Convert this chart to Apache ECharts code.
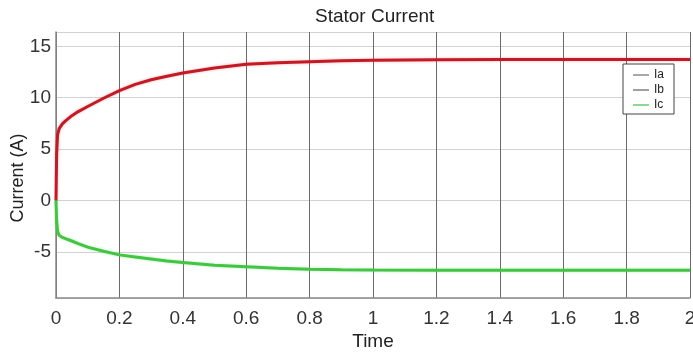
<!DOCTYPE html>
<html>
<head>
<meta charset="utf-8">
<script src="https://cdn.jsdelivr.net/npm/echarts@6/dist/echarts.min.js"></script>
<style>
html,body{margin:0;padding:0;background:#fff;}
#chart{width:693px;height:354px;}
</style>
</head>
<body>
<div id="chart"></div>
<script>
// ---- data ----
const titleText = 'Stator Current';
const xName = 'Time';
const yName = 'Current (A)';
const seriesNames = ['Ia', 'Ib', 'Ic'];
const time = [0, 0.002, 0.005, 0.01, 0.02, 0.03, 0.05, 0.07, 0.1, 0.15, 0.2, 0.25, 0.3, 0.35, 0.4, 0.5, 0.6, 0.7, 0.8, 0.9, 1.0, 1.2, 1.4, 1.6, 1.8, 2.0];
const ia = [0, 4.5, 6.4, 7.0, 7.45, 7.75, 8.25, 8.65, 9.15, 9.95, 10.7, 11.3, 11.75, 12.1, 12.4, 12.9, 13.25, 13.4, 13.5, 13.6, 13.65, 13.7, 13.72, 13.72, 13.72, 13.72];
const ib = [0, -2.0, -3.0, -3.4, -3.6, -3.72, -3.95, -4.2, -4.55, -4.95, -5.3, -5.5, -5.7, -5.9, -6.05, -6.3, -6.45, -6.6, -6.7, -6.75, -6.78, -6.8, -6.8, -6.8, -6.8, -6.8];
const ic = [0, -2.0, -3.0, -3.4, -3.6, -3.72, -3.95, -4.2, -4.55, -4.95, -5.3, -5.5, -5.7, -5.9, -6.05, -6.3, -6.45, -6.6, -6.7, -6.75, -6.78, -6.8, -6.8, -6.8, -6.8, -6.8];
const xMin = 0, xMax = 2, xStep = 0.2;
const yMin = -9.5, yMax = 16.4;

const pairs = (xs, ys) => xs.map((x, i) => [x, ys[i]]);
const font = '"Liberation Sans", Arial, sans-serif';

const chart = echarts.init(document.getElementById('chart'), null, {renderer: 'canvas'});
chart.setOption({
  animation: false,
  backgroundColor: '#fff',
  title: {
    text: titleText,
    left: 310, top: 2,
    textStyle: {fontFamily: font, fontSize: 19, fontWeight: 'normal', color: '#222'}
  },
  grid: {left: 56, right: 3, top: 32, bottom: 56, containLabel: false, outerBoundsMode: 'none'},
  legend: {
    orient: 'vertical',
    left: 623, top: 64,
    itemWidth: 16, itemHeight: 2, itemGap: 3,
    padding: [5, 10, 3, 10],
    borderColor: '#444', borderWidth: 1,
    backgroundColor: '#fff',
    icon: 'rect',
    textStyle: {fontFamily: font, fontSize: 12, color: '#222'},
    data: [
      {name: seriesNames[0], itemStyle: {color: '#a8a8a8'}},
      {name: seriesNames[1], itemStyle: {color: '#a0a0a0'}},
      {name: seriesNames[2], itemStyle: {color: '#8fd88f'}}
    ]
  },
  xAxis: {
    type: 'value', min: xMin, max: xMax, interval: xStep,
    name: xName, nameLocation: 'middle', nameGap: 34, nameMoveOverlap: false,
    nameTextStyle: {fontFamily: font, fontSize: 19, color: '#222'},
    axisLine: {show: true, onZero: false, lineStyle: {color: '#8a8a8a', width: 1.5}},
    axisTick: {show: false},
    axisLabel: {fontFamily: font, fontSize: 19, color: '#333', margin: 11},
    splitLine: {show: true, lineStyle: {color: '#6a6a6a', width: 1}}
  },
  yAxis: {
    type: 'value', min: yMin, max: yMax, splitNumber: 5,
    name: yName, nameLocation: 'middle', nameGap: 29, nameMoveOverlap: false,
    nameTextStyle: {fontFamily: font, fontSize: 18, color: '#222', padding: [0, 26, 0, 0]},
    axisLine: {show: true, lineStyle: {color: '#8a8a8a', width: 1.5}},
    axisTick: {show: false},
    axisLabel: {fontFamily: font, fontSize: 19, color: '#333', margin: 5, showMinLabel: false, showMaxLabel: false},
    splitLine: {show: true, lineStyle: {color: '#d2d2d2', width: 1}}
  },
  series: [
    {name: seriesNames[0], type: 'line', data: pairs(time, ia), showSymbol: false, smooth: false, z: 3,
     lineStyle: {color: '#c41a26', width: 3, shadowColor: 'rgba(230,80,80,0.4)', shadowBlur: 3}, itemStyle: {color: '#c41a26'}},
    {name: seriesNames[1], type: 'line', data: pairs(time, ib), showSymbol: false, z: 2,
     lineStyle: {color: '#2f4f4f', width: 1.5}, itemStyle: {color: '#2f4f4f'}},
    {name: seriesNames[2], type: 'line', data: pairs(time, ic), showSymbol: false, z: 3,
     lineStyle: {color: '#44c444', width: 3, shadowColor: 'rgba(90,220,90,0.4)', shadowBlur: 3}, itemStyle: {color: '#44c444'}}
  ]
});
</script>
</body>
</html>
